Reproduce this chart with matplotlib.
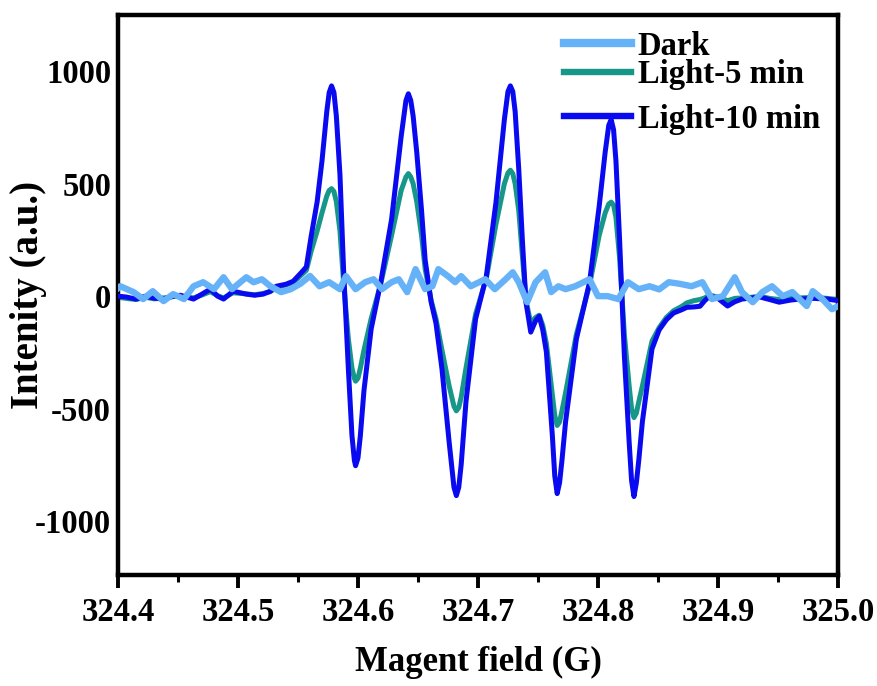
import matplotlib
matplotlib.use('Agg')
import matplotlib.pyplot as plt
from matplotlib.ticker import MultipleLocator, FormatStrFormatter
from matplotlib.lines import Line2D

# ---------------- data ----------------
field_light = [324.400, 324.407, 324.415, 324.423, 324.430, 324.438, 324.446, 324.452, 324.463, 324.470,
               324.477, 324.483, 324.488, 324.496, 324.507, 324.514, 324.521, 324.527, 324.532, 324.540,
               324.546, 324.553, 324.557, 324.561, 324.566, 324.570, 324.574, 324.576, 324.578, 324.580,
               324.582, 324.585, 324.588, 324.592, 324.595, 324.597, 324.598, 324.600, 324.602, 324.605,
               324.611, 324.619, 324.628, 324.636, 324.640, 324.642, 324.644, 324.646, 324.649, 324.653,
               324.656, 324.661, 324.665, 324.670, 324.676, 324.680, 324.682, 324.684, 324.686, 324.690,
               324.698, 324.707, 324.715, 324.722, 324.725, 324.727, 324.729, 324.731, 324.734, 324.737,
               324.740, 324.744, 324.748, 324.751, 324.754, 324.757, 324.762, 324.764, 324.766, 324.768,
               324.770, 324.773, 324.782, 324.793, 324.801, 324.806, 324.809, 324.811, 324.813, 324.815,
               324.818, 324.822, 324.826, 324.828, 324.830, 324.832, 324.834, 324.837, 324.845, 324.851,
               324.857, 324.863, 324.870, 324.874, 324.880, 324.885, 324.889, 324.893, 324.900, 324.908,
               324.914, 324.920, 324.928, 324.935, 324.943, 324.951, 324.960, 324.968, 324.980, 324.991,
               325.000]

int_light10 = [0, -4, -13, 0, -9, -13, 0, 4, -13, 9,
               31, 0, -13, 22, 9, 4, 9, 22, 44, 53,
               66, 106, 130, 266, 420, 600, 820, 905, 935, 905,
               800, 540, 120, -324, -620, -730, -754, -720, -620, -420,
               -146, 62, 341, 710, 870, 900, 870, 800, 639, 380,
               160, -27, -120, -324, -650, -850, -887, -850, -750, -470,
               -102, 89, 417, 785, 910, 935, 910, 820, 563, 250,
               -27, -160, -110, -89, -150, -248, -621, -800, -878, -830,
               -730, -559, -191, 62, 399, 640, 760, 785, 740, 600,
               253, -266, -650, -820, -891, -830, -730, -559, -235, -150,
               -105, -75, -60, -50, -48, -45, -20, 0, -10, -44,
               -25, -13, -8, -4, -15, -27, -18, -13, -10, -13,
               -20]

int_light5 = [-5, -10, -15, -5, -12, -8, -2, 0, -8, 5,
              20, 2, -8, 15, 10, 6, 12, 20, 38, 50,
              60, 95, 115, 200, 290, 370, 445, 470, 478, 465,
              420, 290, 60, -190, -320, -365, -378, -365, -320, -240,
              -100, 55, 270, 470, 530, 545, 530, 500, 420, 270,
              120, -20, -100, -240, -400, -490, -510, -495, -450, -320,
              -80, 80, 320, 500, 548, 560, 545, 500, 380, 180,
              -20, -120, -95, -85, -130, -210, -440, -530, -575, -560,
              -510, -430, -170, 50, 270, 370, 410, 418, 405, 350,
              170, -170, -400, -500, -540, -520, -470, -400, -200, -140,
              -95, -65, -45, -30, -20, -15, -8, 5, -5, -20,
              -10, -8, -5, 0, -10, -15, -10, -8, -5, -10,
              -15]

field_dark = [324.400, 324.402, 324.413, 324.421, 324.429, 324.438, 324.446, 324.455, 324.463, 324.471,
              324.480, 324.488, 324.495, 324.502, 324.507, 324.513, 324.520, 324.527, 324.536, 324.544,
              324.552, 324.560, 324.568, 324.576, 324.585, 324.590, 324.598, 324.606, 324.613, 324.620,
              324.628, 324.634, 324.641, 324.648, 324.656, 324.662, 324.667, 324.675, 324.681, 324.686,
              324.694, 324.706, 324.714, 324.723, 324.729, 324.734, 324.741, 324.748, 324.756, 324.761,
              324.767, 324.773, 324.781, 324.793, 324.800, 324.808, 324.817, 324.825, 324.834, 324.843,
              324.851, 324.859, 324.868, 324.878, 324.887, 324.895, 324.904, 324.914, 324.920, 324.929,
              324.937, 324.945, 324.954, 324.962, 324.974, 324.979, 324.987, 324.995, 325.000]

int_dark = [35, 44, 18, -13, 22, -22, 9, -13, 44, 62,
            31, 84, 31, 62, 84, 62, 75, 44, 18, 31,
            55, 90, 44, 62, 31, 89, 31, 62, 75, 31,
            62, 75, 18, 120, 31, 44, 120, 89, 62, 89,
            44, 75, 31, 75, 106, 62, -27, 62, 106, 18,
            44, 31, 44, 75, 0, 0, -13, 62, 31, 44,
            30, 62, 55, 44, 62, -13, 0, 84, 18, -27,
            18, 44, 0, 18, -44, 22, -13, -58, -45]

series_labels = ['Dark', 'Light-5 min', 'Light-10 min']
series_colors = ['#66B2F8', '#17978A', '#0A0AF0']
x_ticks = [324.4, 324.5, 324.6, 324.7, 324.8, 324.9, 325.0]
y_ticks = [-1000, -500, 0, 500, 1000]

# ---------------- figure ----------------
plt.rcParams['font.family'] = ['Liberation Serif', 'DejaVu Serif']
plt.rcParams['font.weight'] = 'bold'
plt.rcParams['axes.unicode_minus'] = False

fig = plt.figure(figsize=(8.77, 6.86), dpi=100)
ax = fig.add_axes([0.1345, 0.1618, 0.821, 0.8163])

ax.plot(field_light, int_light5, color=series_colors[1], lw=3.6, zorder=2,
        solid_joinstyle='round')
ax.plot(field_light, int_light10, color=series_colors[2], lw=3.6, zorder=3,
        solid_joinstyle='round')
ax.plot(field_dark, int_dark, color=series_colors[0], lw=4.6, zorder=4,
        solid_joinstyle='round')

ax.set_xlim(324.4, 325.0)
ax.set_ylim(-1240, 1250)
ax.set_xticks(x_ticks)
ax.xaxis.set_minor_locator(MultipleLocator(0.05))
ax.xaxis.set_major_formatter(FormatStrFormatter('%.1f'))
ax.set_yticks(y_ticks)

ax.tick_params(axis='x', which='major', direction='out', length=9, width=2.8,
               labelsize=23.5, pad=7)
ax.tick_params(axis='x', which='minor', direction='out', length=5, width=2.2)
ax.tick_params(axis='y', which='both', length=0, labelsize=23.5, pad=5)
for lab in ax.get_xticklabels() + ax.get_yticklabels():
    lab.set_fontweight('bold')
for s in ax.spines.values():
    s.set_linewidth(3.2)

ax.set_xlabel('Magent field (G)', fontsize=25, fontweight='bold')
ax.set_ylabel('Intenity (a.u.)', fontsize=28, fontweight='bold')
ax.xaxis.label.set_va('center')
ax.yaxis.label.set_va('center')
ax.xaxis.set_label_coords(0.5, -0.157)
ax.yaxis.set_label_coords(-0.124, 0.50)

# legend (two blocks to reproduce the uneven spacing)
h_dark = Line2D([], [], color=series_colors[0], lw=6)
h_l5 = Line2D([], [], color=series_colors[1], lw=4.6)
h_l10 = Line2D([], [], color=series_colors[2], lw=4.6)
prop = {'family': 'Liberation Serif', 'weight': 'bold', 'size': 23.5}
leg1 = ax.legend([h_dark, h_l5], series_labels[:2], loc='upper left',
                 bbox_to_anchor=(0.62, 0.972), frameon=False, prop=prop,
                 handlelength=2.05, handletextpad=0.2, labelspacing=-0.08,
                 borderpad=0.0, borderaxespad=0.0)
ax.add_artist(leg1)
ax.legend([h_l10], series_labels[2:], loc='upper left',
          bbox_to_anchor=(0.62, 0.842), frameon=False, prop=prop,
          handlelength=2.05, handletextpad=0.2,
          borderpad=0.0, borderaxespad=0.0)

fig.savefig('out.png', dpi=100)
